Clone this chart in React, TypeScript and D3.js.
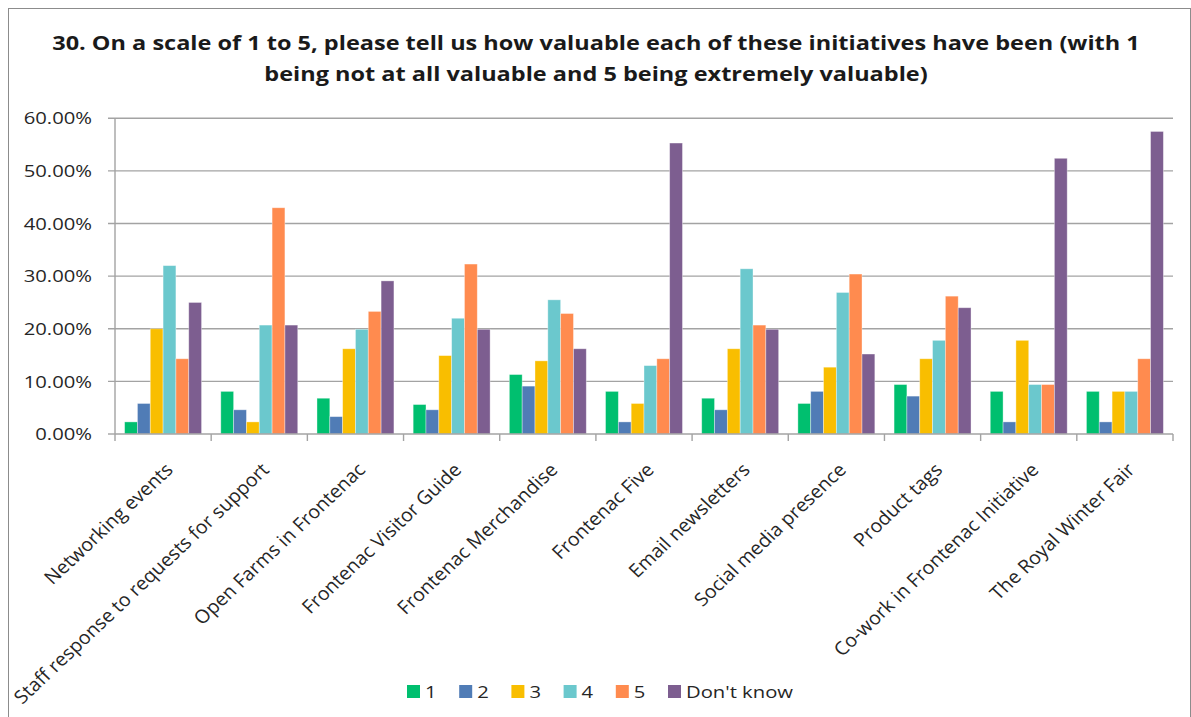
import React from "react";
import * as d3 from "d3";

const categories = [
  "Networking events",
  "Staff response to requests for support",
  "Open Farms in Frontenac",
  "Frontenac Visitor Guide",
  "Frontenac Merchandise",
  "Frontenac Five",
  "Email newsletters",
  "Social media presence",
  "Product tags",
  "Co-work in Frontenac Initiative",
  "The Royal Winter Fair",
];

const seriesNames = ["1", "2", "3", "4", "5", "Don't know"];

// percentage of respondents per rating, one array per rating
const rating1 = [2.3, 8.1, 6.8, 5.6, 11.3, 8.1, 6.8, 5.8, 9.4, 8.1, 8.1];
const rating2 = [5.8, 4.6, 3.3, 4.6, 9.1, 2.3, 4.6, 8.1, 7.2, 2.3, 2.3];
const rating3 = [20.0, 2.3, 16.2, 14.9, 13.9, 5.8, 16.2, 12.7, 14.3, 17.8, 8.1];
const rating4 = [32.0, 20.7, 19.9, 22.0, 25.5, 13.0, 31.4, 26.9, 17.8, 9.4, 8.1];
const rating5 = [14.3, 43.0, 23.3, 32.3, 22.9, 14.3, 20.7, 30.4, 26.2, 9.4, 14.3];
const dontKnow = [25.0, 20.7, 29.1, 19.9, 16.2, 55.3, 19.9, 15.2, 24.0, 52.4, 57.5];

const seriesValues = [rating1, rating2, rating3, rating4, rating5, dontKnow];

const yTicks = [0, 10, 20, 30, 40, 50, 60];

const colors = ["#00BF6F", "#507CB6", "#F9BE00", "#6BC8CD", "#FF8B4F", "#7D5E90"];

const titleLines = [
  "30. On a scale of 1 to 5, please tell us how valuable each of these initiatives have been (with 1",
  "being not at all valuable and 5 being extremely valuable)",
];

const W = 1191;
const H = 717;
const plot = { left: 115, right: 1173, top: 118.3, bottom: 434 };
const FONT = "'Open Sans', 'Noto Sans', sans-serif";
const TEXT = "#262626";
const GRID = "#a3a3a3";
// the text in this chart is set wide; a horizontal stretch emulates it
const WIDE = 1.19;

export default function App() {
  const x0 = d3
    .scaleBand<string>()
    .domain(categories)
    .range([plot.left, plot.right])
    .paddingInner(0.2)
    .paddingOuter(0.1);
  const x1 = d3
    .scaleBand<string>()
    .domain(seriesNames)
    .range([0, x0.bandwidth()]);
  const y = d3.scaleLinear().domain([0, 60]).range([plot.bottom, plot.top]);
  const step = x0.step();

  return (
    <svg
      width={W}
      height={H}
      style={{ position: "absolute", left: 0, top: 0, background: "#fff" }}
      fontFamily={FONT}
    >
      <rect x={8.5} y={8.5} width={1182} height={720} fill="#fff" stroke="#8c8c8c" strokeWidth={1} />

      {titleLines.map((t, i) => (
        <text
          key={i}
          transform={`translate(596,${50 + i * 31}) scale(1.175,1)`}
          textAnchor="middle"
          fontSize={20}
          fontWeight={700}
          fill="#1a1a1a"
        >
          {t}
        </text>
      ))}

      {/* gridlines and y ticks */}
      {yTicks.map((t) => (
        <g key={t}>
          <line
            x1={108}
            x2={t === 0 ? plot.left : plot.right}
            y1={y(t)}
            y2={y(t)}
            stroke={GRID}
            strokeWidth={1.4}
          />
          <text
            transform={`translate(92,${y(t)}) scale(${WIDE},1)`}
            dy="0.36em"
            textAnchor="end"
            fontSize={17}
            fill={TEXT}
          >
            {t.toFixed(2) + "%"}
          </text>
        </g>
      ))}

      {/* bars */}
      {seriesValues.map((vals, si) => (
        <g key={si} fill={colors[si]}>
          {vals.map((v, ci) => (
            <rect
              key={ci}
              x={(x0(categories[ci]) ?? 0) + (x1(seriesNames[si]) ?? 0)}
              y={y(v)}
              width={x1.bandwidth()}
              height={plot.bottom - y(v)}
              stroke="#ffffff"
              strokeOpacity={0.45}
              strokeWidth={0.8}
            />
          ))}
        </g>
      ))}

      {/* axes */}
      <line x1={plot.left} x2={plot.left} y1={plot.top} y2={plot.bottom} stroke={GRID} strokeWidth={1.4} />
      <line x1={plot.left} x2={plot.right} y1={plot.bottom} y2={plot.bottom} stroke={GRID} strokeWidth={1.4} />
      {d3.range(categories.length + 1).map((i) => (
        <line
          key={i}
          x1={plot.left + i * step}
          x2={plot.left + i * step}
          y1={plot.bottom}
          y2={plot.bottom + 7}
          stroke={GRID}
          strokeWidth={1.4}
        />
      ))}

      {/* category labels */}
      {categories.map((c) => {
        const cx = (x0(c) ?? 0) + x0.bandwidth() / 2;
        return (
          <text
            key={c}
            transform={`translate(${cx + 11},${471}) scale(1.06,1) rotate(-45)`}
            textAnchor="end"
            fontSize={18.6}
            fill={TEXT}
          >
            {c}
          </text>
        );
      })}

      {/* legend */}
      {seriesNames.map((s, i) => (
        <g key={s} transform={`translate(${407 + i * 52.2},${685})`}>
          <rect width={13} height={13} fill={colors[i]} />
          <text transform={`translate(18,13) scale(${WIDE},1)`} fontSize={17} fill={TEXT}>
            {s}
          </text>
        </g>
      ))}
    </svg>
  );
}
